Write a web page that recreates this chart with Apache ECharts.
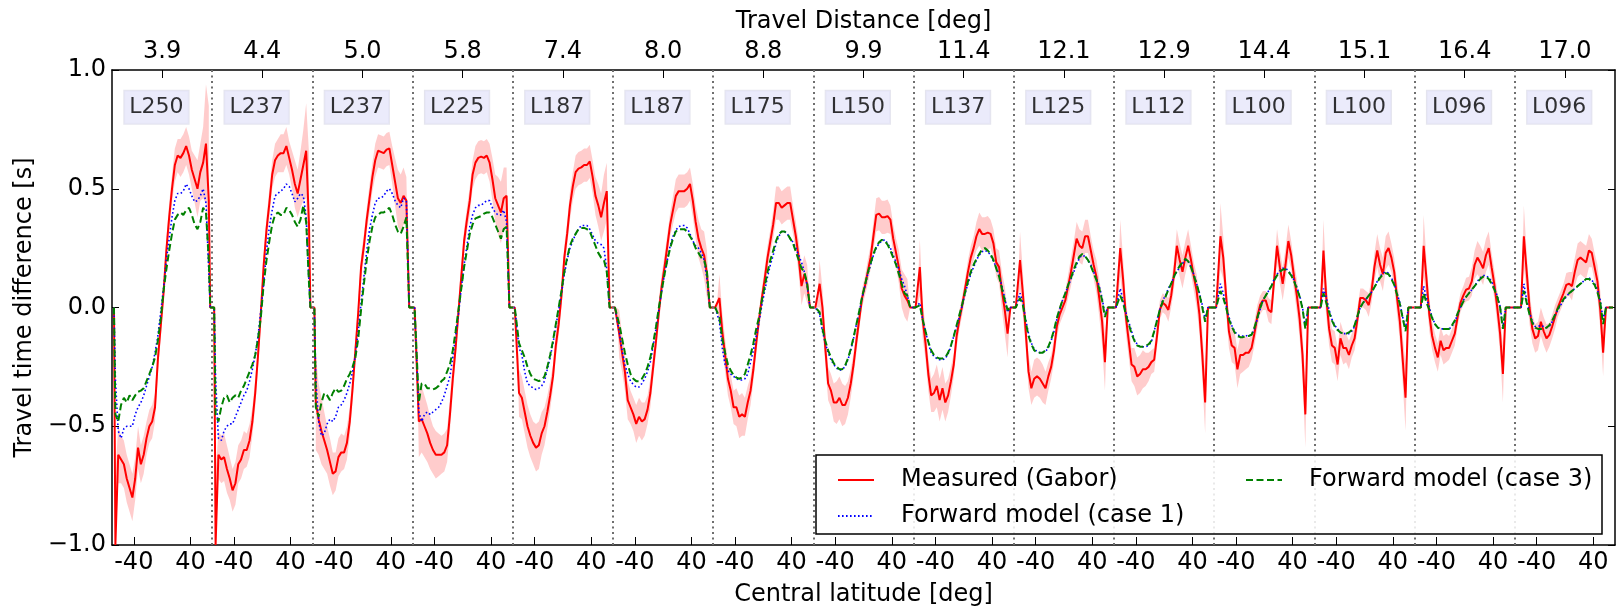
<!DOCTYPE html>
<html>
<head>
<meta charset="utf-8">
<title>Travel time difference</title>
<script src="https://cdn.jsdelivr.net/npm/echarts@6.0.0/dist/echarts.min.js"></script>
<style>
  html, body { margin: 0; padding: 0; background: #fff; }
  #chart { width: 1623px; height: 613px; }
</style>
</head>
<body>
<div id="chart"></div>
<script>
// central latitudes sampled in every panel (deg)
const LATS = [-66, -62, -58, -54, -50, -46, -42, -38, -34, -30, -26, -22, -18, -14, -10, -6, -2,
  2, 6, 10, 14, 18, 22, 26, 30, 34, 38, 42, 46, 50, 54, 58, 62, 66];

// top axis: travel distance of each panel, and the lower turning point label
const TRAVEL_DIST = ['3.9', '4.4', '5.0', '5.8', '7.4', '8.0', '8.8', '9.9', '11.4', '12.1', '12.9', '14.4', '15.1', '16.4', '17.0'];
const TURN_LABELS = ['L250', 'L237', 'L237', 'L225', 'L187', 'L187', 'L175', 'L150', 'L137', 'L125', 'L112', 'L100', 'L100', 'L096', 'L096'];

// measured (Gabor), one row per panel
const MEASURED = [
  [-1.0, -0.62, -0.64, -0.66, -0.72, -0.76, -0.80, -0.72, -0.59, -0.66, -0.62, -0.55, -0.50, -0.48, -0.42, -0.22, -0.08, 0.06, 0.24, 0.38, 0.50, 0.60, 0.64, 0.63, 0.65, 0.68, 0.64, 0.58, 0.54, 0.50, 0.57, 0.61, 0.69, 0.45],
  [-1.0, -0.62, -0.64, -0.63, -0.68, -0.72, -0.77, -0.74, -0.66, -0.64, -0.60, -0.60, -0.56, -0.48, -0.36, -0.20, -0.02, 0.18, 0.33, 0.44, 0.56, 0.62, 0.64, 0.65, 0.65, 0.68, 0.63, 0.58, 0.52, 0.48, 0.54, 0.60, 0.66, 0.35],
  [-0.40, -0.47, -0.52, -0.56, -0.60, -0.65, -0.70, -0.69, -0.63, -0.61, -0.61, -0.57, -0.48, -0.34, -0.18, -0.02, 0.17, 0.26, 0.37, 0.46, 0.55, 0.62, 0.66, 0.655, 0.65, 0.665, 0.67, 0.60, 0.53, 0.46, 0.44, 0.47, 0.45, 0],
  [0, -0.48, -0.47, -0.50, -0.53, -0.57, -0.60, -0.62, -0.62, -0.62, -0.61, -0.58, -0.45, -0.30, -0.17, -0.02, 0.13, 0.28, 0.37, 0.45, 0.56, 0.61, 0.63, 0.635, 0.63, 0.64, 0.61, 0.54, 0.46, 0.43, 0.40, 0.46, 0.47, 0],
  [0, -0.36, -0.38, -0.44, -0.50, -0.54, -0.57, -0.59, -0.58, -0.53, -0.50, -0.44, -0.37, -0.29, -0.16, -0.07, 0.05, 0.21, 0.31, 0.43, 0.51, 0.57, 0.585, 0.59, 0.60, 0.60, 0.615, 0.55, 0.47, 0.43, 0.38, 0.44, 0.49, 0],
  [0, -0.11, -0.19, -0.27, -0.39, -0.42, -0.45, -0.49, -0.46, -0.48, -0.47, -0.43, -0.36, -0.25, -0.14, -0.02, 0.09, 0.17, 0.26, 0.35, 0.41, 0.47, 0.49, 0.49, 0.49, 0.50, 0.52, 0.45, 0.36, 0.29, 0.25, 0.22, 0.14, 0],
  [0, 0.04, -0.10, -0.20, -0.30, -0.35, -0.42, -0.42, -0.46, -0.45, -0.46, -0.40, -0.35, -0.26, -0.15, -0.05, 0.04, 0.12, 0.21, 0.28, 0.35, 0.44, 0.44, 0.42, 0.43, 0.44, 0.44, 0.37, 0.30, 0.21, 0.09, 0.14, 0.10, 0],
  [0, 0.10, 0.00, -0.17, -0.32, -0.35, -0.40, -0.40, -0.38, -0.41, -0.41, -0.38, -0.32, -0.24, -0.14, -0.05, 0.04, 0.09, 0.15, 0.21, 0.30, 0.39, 0.395, 0.38, 0.38, 0.385, 0.37, 0.29, 0.23, 0.17, 0.08, 0.05, 0.03, 0],
  [0, 0.17, -0.05, -0.15, -0.28, -0.37, -0.36, -0.33, -0.39, -0.34, -0.40, -0.37, -0.31, -0.24, -0.12, -0.05, 0.01, 0.08, 0.15, 0.21, 0.25, 0.30, 0.33, 0.31, 0.31, 0.315, 0.31, 0.27, 0.19, 0.17, 0.07, -0.01, -0.11, 0],
  [0, 0.20, 0.06, -0.10, -0.27, -0.34, -0.30, -0.29, -0.30, -0.32, -0.34, -0.29, -0.25, -0.18, -0.08, -0.03, 0.0, 0.03, 0.09, 0.15, 0.22, 0.29, 0.26, 0.25, 0.30, 0.30, 0.24, 0.18, 0.13, 0.04, -0.06, -0.23, 0, 0],
  [0, 0.25, 0.12, -0.04, -0.14, -0.24, -0.25, -0.29, -0.28, -0.26, -0.26, -0.25, -0.23, -0.22, -0.12, -0.01, 0.02, 0.01, -0.01, 0.05, 0.14, 0.26, 0.20, 0.15, 0.21, 0.26, 0.20, 0.13, 0.07, -0.03, -0.20, -0.40, 0, 0],
  [0, 0.30, 0.21, 0.05, -0.10, -0.16, -0.17, -0.26, -0.20, -0.20, -0.19, -0.19, -0.17, -0.11, -0.04, 0.01, 0.03, 0.03, -0.01, -0.02, 0.12, 0.26, 0.17, 0.10, 0.18, 0.28, 0.22, 0.13, 0.05, -0.05, -0.20, -0.45, 0, 0],
  [0, 0, 0.24, 0.04, -0.09, -0.16, -0.17, -0.24, -0.13, -0.17, -0.17, -0.20, -0.16, -0.13, -0.05, 0.04, 0.04, 0.03, 0.01, 0.07, 0.17, 0.24, 0.18, 0.14, 0.23, 0.25, 0.21, 0.15, 0.04, -0.06, -0.22, -0.38, 0, 0],
  [0, 0, 0.26, 0.12, -0.03, -0.12, -0.17, -0.21, -0.14, -0.18, -0.17, -0.17, -0.14, -0.11, -0.04, 0.02, 0.05, 0.075, 0.08, 0.11, 0.18, 0.21, 0.19, 0.165, 0.22, 0.25, 0.17, 0.095, 0.0, -0.11, -0.28, 0, 0, 0],
  [0, 0, 0.30, 0.15, 0.0, -0.09, -0.13, -0.12, -0.06, -0.10, -0.13, -0.115, -0.08, -0.04, 0.0, 0.03, 0.06, 0.095, 0.10, 0.09, 0.15, 0.20, 0.21, 0.20, 0.19, 0.24, 0.23, 0.17, 0.11, -0.01, -0.19, 0, 0, 0],
];

// half width of the shaded spread around the measurement
const SPREAD = [
  [0.30, 0.12, 0.10, 0.10, 0.10, 0.10, 0.10, 0.09, 0.09, 0.08, 0.08, 0.07, 0.07, 0.07, 0.06, 0.06, 0.05, 0.05, 0.05, 0.06, 0.06, 0.07, 0.07, 0.08, 0.08, 0.08, 0.08, 0.08, 0.10, 0.12, 0.12, 0.15, 0.25, 0.40],
  [0.30, 0.10, 0.10, 0.10, 0.10, 0.09, 0.09, 0.09, 0.08, 0.08, 0.08, 0.07, 0.07, 0.06, 0.06, 0.05, 0.05, 0.05, 0.05, 0.06, 0.06, 0.07, 0.07, 0.08, 0.08, 0.08, 0.07, 0.08, 0.10, 0.10, 0.12, 0.15, 0.20, 0.30],
  [0.20, 0.15, 0.14, 0.12, 0.10, 0.10, 0.09, 0.08, 0.08, 0.08, 0.07, 0.07, 0.06, 0.06, 0.05, 0.05, 0.05, 0.05, 0.05, 0.06, 0.06, 0.07, 0.07, 0.07, 0.07, 0.07, 0.07, 0.08, 0.10, 0.12, 0.12, 0.12, 0.10, 0],
  [0, 0.15, 0.14, 0.13, 0.12, 0.11, 0.10, 0.10, 0.09, 0.08, 0.08, 0.07, 0.07, 0.06, 0.05, 0.05, 0.05, 0.05, 0.05, 0.06, 0.06, 0.07, 0.07, 0.07, 0.07, 0.07, 0.08, 0.09, 0.10, 0.12, 0.13, 0.13, 0.12, 0],
  [0, 0.10, 0.09, 0.09, 0.09, 0.09, 0.09, 0.10, 0.10, 0.09, 0.08, 0.07, 0.06, 0.05, 0.05, 0.05, 0.05, 0.05, 0.05, 0.06, 0.06, 0.07, 0.07, 0.07, 0.07, 0.07, 0.07, 0.07, 0.08, 0.09, 0.10, 0.12, 0.12, 0],
  [0, 0.10, 0.08, 0.08, 0.08, 0.07, 0.07, 0.08, 0.08, 0.08, 0.07, 0.06, 0.06, 0.05, 0.05, 0.05, 0.05, 0.05, 0.05, 0.05, 0.06, 0.07, 0.07, 0.07, 0.07, 0.07, 0.07, 0.07, 0.07, 0.08, 0.08, 0.10, 0.10, 0],
  [0, 0.10, 0.08, 0.07, 0.07, 0.07, 0.07, 0.08, 0.09, 0.09, 0.08, 0.07, 0.06, 0.05, 0.05, 0.04, 0.04, 0.05, 0.05, 0.05, 0.06, 0.07, 0.07, 0.07, 0.07, 0.07, 0.07, 0.06, 0.06, 0.07, 0.08, 0.08, 0.08, 0],
  [0, 0.10, 0.08, 0.07, 0.07, 0.07, 0.08, 0.09, 0.09, 0.09, 0.08, 0.07, 0.06, 0.05, 0.05, 0.04, 0.04, 0.04, 0.05, 0.05, 0.06, 0.07, 0.07, 0.07, 0.07, 0.07, 0.06, 0.06, 0.06, 0.07, 0.08, 0.09, 0.09, 0],
  [0, 0.12, 0.08, 0.07, 0.07, 0.07, 0.08, 0.09, 0.09, 0.09, 0.08, 0.07, 0.06, 0.05, 0.05, 0.04, 0.04, 0.04, 0.05, 0.05, 0.05, 0.06, 0.07, 0.07, 0.07, 0.07, 0.06, 0.06, 0.06, 0.07, 0.08, 0.10, 0.10, 0],
  [0, 0.12, 0.09, 0.07, 0.07, 0.07, 0.08, 0.08, 0.08, 0.08, 0.07, 0.06, 0.05, 0.05, 0.05, 0.04, 0.04, 0.04, 0.05, 0.06, 0.06, 0.07, 0.07, 0.07, 0.07, 0.07, 0.06, 0.06, 0.07, 0.08, 0.10, 0.12, 0, 0],
  [0, 0.12, 0.09, 0.07, 0.07, 0.07, 0.08, 0.08, 0.08, 0.08, 0.07, 0.06, 0.05, 0.05, 0.05, 0.04, 0.04, 0.04, 0.05, 0.05, 0.06, 0.07, 0.07, 0.07, 0.07, 0.07, 0.06, 0.06, 0.07, 0.08, 0.10, 0.13, 0, 0],
  [0, 0.14, 0.09, 0.07, 0.07, 0.07, 0.07, 0.08, 0.08, 0.07, 0.07, 0.06, 0.05, 0.05, 0.05, 0.04, 0.04, 0.04, 0.05, 0.05, 0.06, 0.07, 0.07, 0.07, 0.07, 0.07, 0.06, 0.06, 0.07, 0.08, 0.10, 0.14, 0, 0],
  [0, 0, 0.13, 0.08, 0.07, 0.07, 0.07, 0.07, 0.07, 0.07, 0.06, 0.06, 0.05, 0.05, 0.05, 0.04, 0.04, 0.04, 0.05, 0.05, 0.06, 0.07, 0.07, 0.07, 0.07, 0.07, 0.06, 0.06, 0.07, 0.08, 0.10, 0.14, 0, 0],
  [0, 0, 0.13, 0.08, 0.07, 0.06, 0.06, 0.06, 0.06, 0.06, 0.06, 0.05, 0.05, 0.05, 0.04, 0.04, 0.04, 0.05, 0.05, 0.06, 0.06, 0.07, 0.07, 0.07, 0.07, 0.07, 0.06, 0.06, 0.07, 0.08, 0.12, 0, 0, 0],
  [0, 0, 0.13, 0.08, 0.07, 0.06, 0.06, 0.06, 0.06, 0.06, 0.06, 0.05, 0.05, 0.05, 0.04, 0.04, 0.04, 0.05, 0.05, 0.06, 0.06, 0.07, 0.07, 0.07, 0.07, 0.07, 0.06, 0.06, 0.07, 0.08, 0.10, 0, 0, 0],
];

// forward model (case 1)
const CASE1 = [
  [-0.30, -0.52, -0.55, -0.51, -0.50, -0.50, -0.50, -0.45, -0.42, -0.40, -0.37, -0.33, -0.29, -0.25, -0.19, -0.12, -0.02, 0.08, 0.20, 0.29, 0.38, 0.45, 0.48, 0.48, 0.49, 0.52, 0.50, 0.47, 0.445, 0.45, 0.47, 0.50, 0.44, 0.15],
  [-0.30, -0.55, -0.56, -0.52, -0.50, -0.49, -0.49, -0.46, -0.43, -0.40, -0.37, -0.35, -0.31, -0.26, -0.20, -0.12, -0.01, 0.10, 0.24, 0.34, 0.41, 0.47, 0.48, 0.49, 0.50, 0.52, 0.51, 0.48, 0.445, 0.46, 0.48, 0.47, 0.38, 0.10],
  [-0.30, -0.48, -0.54, -0.53, -0.49, -0.47, -0.48, -0.46, -0.42, -0.41, -0.39, -0.36, -0.32, -0.27, -0.20, -0.10, 0.02, 0.13, 0.24, 0.33, 0.39, 0.44, 0.46, 0.46, 0.47, 0.49, 0.50, 0.48, 0.45, 0.43, 0.42, 0.46, 0.45, 0],
  [0, -0.44, -0.48, -0.45, -0.44, -0.45, -0.44, -0.43, -0.42, -0.40, -0.37, -0.33, -0.29, -0.21, -0.12, -0.03, 0.08, 0.18, 0.26, 0.34, 0.39, 0.42, 0.43, 0.43, 0.44, 0.45, 0.45, 0.42, 0.40, 0.39, 0.39, 0.41, 0.36, 0],
  [0, -0.17, -0.20, -0.27, -0.32, -0.33, -0.34, -0.345, -0.34, -0.33, -0.31, -0.26, -0.21, -0.15, -0.08, -0.01, 0.06, 0.14, 0.20, 0.25, 0.28, 0.31, 0.33, 0.345, 0.345, 0.345, 0.33, 0.305, 0.28, 0.27, 0.265, 0.25, 0.16, 0],
  [0, -0.10, -0.18, -0.24, -0.28, -0.31, -0.325, -0.335, -0.335, -0.32, -0.30, -0.27, -0.23, -0.16, -0.09, -0.01, 0.07, 0.14, 0.20, 0.26, 0.30, 0.325, 0.34, 0.345, 0.345, 0.335, 0.31, 0.28, 0.26, 0.25, 0.23, 0.20, 0.12, 0],
  [0, -0.06, -0.17, -0.24, -0.265, -0.28, -0.29, -0.30, -0.305, -0.305, -0.30, -0.28, -0.23, -0.18, -0.12, -0.06, 0.01, 0.07, 0.13, 0.18, 0.22, 0.27, 0.30, 0.32, 0.32, 0.31, 0.29, 0.275, 0.25, 0.22, 0.19, 0.15, 0.09, 0],
  [0, -0.03, -0.10, -0.15, -0.19, -0.22, -0.24, -0.255, -0.265, -0.26, -0.25, -0.22, -0.18, -0.13, -0.07, -0.02, 0.04, 0.09, 0.14, 0.18, 0.22, 0.25, 0.27, 0.28, 0.285, 0.27, 0.25, 0.22, 0.19, 0.16, 0.12, 0.09, 0.05, 0],
  [0, 0.02, -0.05, -0.10, -0.15, -0.19, -0.205, -0.215, -0.22, -0.22, -0.215, -0.195, -0.165, -0.12, -0.08, -0.04, 0.01, 0.06, 0.10, 0.14, 0.17, 0.20, 0.22, 0.235, 0.24, 0.235, 0.22, 0.195, 0.17, 0.135, 0.09, 0.04, -0.02, 0],
  [0, 0.06, 0.02, -0.05, -0.11, -0.15, -0.175, -0.185, -0.19, -0.19, -0.185, -0.17, -0.14, -0.10, -0.05, -0.01, 0.03, 0.06, 0.09, 0.12, 0.15, 0.18, 0.21, 0.22, 0.215, 0.20, 0.18, 0.15, 0.12, 0.09, 0.04, -0.03, 0, 0],
  [0, 0.08, 0.03, -0.02, -0.06, -0.10, -0.135, -0.155, -0.165, -0.165, -0.165, -0.16, -0.145, -0.10, -0.05, -0.01, 0.03, 0.05, 0.08, 0.10, 0.13, 0.15, 0.17, 0.185, 0.20, 0.195, 0.17, 0.14, 0.10, 0.06, 0.01, -0.05, 0, 0],
  [0, 0.10, 0.06, 0.01, -0.04, -0.075, -0.10, -0.115, -0.12, -0.12, -0.12, -0.115, -0.115, -0.09, -0.05, -0.01, 0.03, 0.05, 0.07, 0.09, 0.12, 0.14, 0.155, 0.165, 0.165, 0.155, 0.14, 0.115, 0.085, 0.05, 0.0, -0.08, 0, 0],
  [0, 0, 0.08, 0.04, -0.01, -0.05, -0.075, -0.09, -0.105, -0.11, -0.11, -0.11, -0.10, -0.08, -0.04, 0.0, 0.02, 0.035, 0.05, 0.065, 0.085, 0.11, 0.13, 0.145, 0.15, 0.145, 0.125, 0.10, 0.06, 0.02, -0.04, -0.09, 0, 0],
  [0, 0, 0.09, 0.04, 0.0, -0.04, -0.07, -0.085, -0.09, -0.09, -0.09, -0.09, -0.08, -0.06, -0.03, 0.0, 0.03, 0.045, 0.06, 0.075, 0.09, 0.11, 0.125, 0.135, 0.135, 0.125, 0.11, 0.08, 0.05, 0.005, -0.08, 0, 0, 0],
  [0, 0, 0.10, 0.03, -0.02, -0.06, -0.08, -0.08, -0.075, -0.08, -0.085, -0.08, -0.06, -0.035, -0.01, 0.01, 0.03, 0.045, 0.06, 0.07, 0.08, 0.09, 0.10, 0.11, 0.12, 0.125, 0.115, 0.10, 0.075, 0.03, -0.05, 0, 0, 0],
];

// forward model (case 3)
const CASE3 = [
  [-0.45, -0.48, -0.41, -0.38, -0.40, -0.37, -0.39, -0.37, -0.355, -0.35, -0.34, -0.31, -0.28, -0.25, -0.21, -0.14, -0.05, 0.07, 0.16, 0.24, 0.31, 0.37, 0.39, 0.40, 0.39, 0.41, 0.42, 0.39, 0.35, 0.33, 0.36, 0.42, 0.40, 0.20],
  [-0.45, -0.48, -0.42, -0.38, -0.37, -0.40, -0.38, -0.37, -0.38, -0.35, -0.33, -0.30, -0.27, -0.24, -0.20, -0.13, -0.04, 0.10, 0.20, 0.28, 0.35, 0.39, 0.40, 0.39, 0.39, 0.42, 0.41, 0.39, 0.36, 0.34, 0.37, 0.43, 0.36, 0.10],
  [-0.42, -0.46, -0.40, -0.36, -0.37, -0.39, -0.36, -0.34, -0.355, -0.35, -0.33, -0.30, -0.28, -0.25, -0.21, -0.13, -0.01, 0.10, 0.20, 0.28, 0.34, 0.38, 0.39, 0.40, 0.40, 0.41, 0.42, 0.39, 0.35, 0.32, 0.31, 0.34, 0.38, 0],
  [0, -0.40, -0.32, -0.32, -0.34, -0.34, -0.345, -0.34, -0.33, -0.31, -0.30, -0.27, -0.24, -0.18, -0.10, -0.01, 0.08, 0.17, 0.24, 0.31, 0.35, 0.375, 0.38, 0.385, 0.395, 0.40, 0.40, 0.38, 0.35, 0.32, 0.29, 0.33, 0.34, 0],
  [0, -0.15, -0.18, -0.21, -0.25, -0.28, -0.30, -0.305, -0.31, -0.305, -0.29, -0.25, -0.20, -0.14, -0.07, 0.0, 0.07, 0.15, 0.21, 0.26, 0.29, 0.31, 0.33, 0.335, 0.335, 0.33, 0.32, 0.29, 0.26, 0.23, 0.21, 0.20, 0.15, 0],
  [0, -0.07, -0.13, -0.19, -0.24, -0.28, -0.30, -0.31, -0.31, -0.30, -0.28, -0.25, -0.21, -0.15, -0.08, 0.0, 0.07, 0.14, 0.20, 0.25, 0.29, 0.32, 0.33, 0.33, 0.33, 0.32, 0.30, 0.28, 0.25, 0.23, 0.21, 0.20, 0.15, 0],
  [0, -0.04, -0.13, -0.19, -0.24, -0.265, -0.285, -0.295, -0.30, -0.295, -0.28, -0.24, -0.20, -0.15, -0.09, -0.04, 0.03, 0.09, 0.15, 0.20, 0.24, 0.28, 0.31, 0.32, 0.32, 0.31, 0.29, 0.27, 0.235, 0.20, 0.165, 0.15, 0.10, 0],
  [0, -0.02, -0.09, -0.14, -0.18, -0.21, -0.235, -0.25, -0.26, -0.26, -0.245, -0.215, -0.175, -0.125, -0.07, -0.015, 0.045, 0.095, 0.145, 0.185, 0.225, 0.255, 0.275, 0.285, 0.28, 0.265, 0.24, 0.21, 0.18, 0.14, 0.10, 0.06, 0.05, 0],
  [0, 0.01, -0.05, -0.10, -0.145, -0.18, -0.20, -0.21, -0.215, -0.215, -0.21, -0.19, -0.16, -0.12, -0.075, -0.03, 0.015, 0.065, 0.11, 0.15, 0.18, 0.205, 0.225, 0.245, 0.25, 0.24, 0.225, 0.20, 0.165, 0.13, 0.08, 0.03, -0.01, 0],
  [0, 0.04, 0.01, -0.06, -0.12, -0.155, -0.18, -0.19, -0.19, -0.19, -0.18, -0.165, -0.135, -0.095, -0.045, -0.005, 0.03, 0.06, 0.095, 0.125, 0.16, 0.19, 0.215, 0.225, 0.215, 0.20, 0.175, 0.145, 0.115, 0.08, 0.03, -0.04, 0, 0],
  [0, 0.05, 0.02, -0.03, -0.07, -0.11, -0.14, -0.16, -0.165, -0.165, -0.16, -0.155, -0.14, -0.10, -0.055, -0.01, 0.025, 0.045, 0.075, 0.10, 0.13, 0.155, 0.175, 0.19, 0.205, 0.195, 0.17, 0.135, 0.10, 0.055, 0.0, -0.06, 0, 0],
  [0, 0.07, 0.04, 0.0, -0.05, -0.08, -0.105, -0.12, -0.125, -0.125, -0.12, -0.12, -0.115, -0.085, -0.045, -0.005, 0.03, 0.05, 0.07, 0.09, 0.115, 0.135, 0.15, 0.16, 0.16, 0.15, 0.135, 0.11, 0.08, 0.045, -0.005, -0.09, 0, 0],
  [0, 0, 0.06, 0.02, -0.02, -0.055, -0.08, -0.095, -0.105, -0.11, -0.11, -0.105, -0.095, -0.075, -0.035, 0.0, 0.02, 0.035, 0.05, 0.065, 0.085, 0.105, 0.125, 0.14, 0.145, 0.14, 0.12, 0.095, 0.055, 0.015, -0.045, -0.10, 0, 0],
  [0, 0, 0.06, 0.02, -0.01, -0.045, -0.07, -0.085, -0.09, -0.09, -0.09, -0.09, -0.075, -0.055, -0.025, 0.0, 0.025, 0.045, 0.06, 0.075, 0.09, 0.105, 0.12, 0.13, 0.13, 0.12, 0.10, 0.075, 0.045, 0.0, -0.09, 0, 0, 0],
  [0, 0, 0.07, 0.02, -0.03, -0.065, -0.085, -0.09, -0.09, -0.09, -0.085, -0.075, -0.055, -0.03, -0.005, 0.015, 0.035, 0.05, 0.06, 0.07, 0.08, 0.09, 0.10, 0.11, 0.12, 0.12, 0.11, 0.095, 0.065, 0.02, -0.07, 0, 0, 0],
];

const SPAN = 141.6;      // width of one panel on the shared x axis (deg)
const PAD_LAT = 68;      // series fall back to zero at the panel edge
const LABEL_LAT = -8;    // where the Lxxx boxes sit inside a panel
const LABEL_Y = 0.843;
const FONT = 'DejaVu Sans';
const NPANEL = TRAVEL_DIST.length;

function panelX(k, lat) {
  return k * SPAN + SPAN / 2 + lat;
}

function panelOf(x) {
  return Math.min(NPANEL - 1, Math.max(0, Math.floor(x / SPAN)));
}

function lineData(rows) {
  const out = [];
  rows.forEach((vals, k) => {
    out.push([panelX(k, -PAD_LAT), 0]);
    vals.forEach((v, i) => out.push([panelX(k, LATS[i]), v]));
    out.push([panelX(k, PAD_LAT), 0]);
  });
  return out;
}

function clampY(v) {
  return Math.max(-1, Math.min(1, v));
}

const bottomTicks = [];
const topTicks = [];
const separators = [];
for (let k = 0; k < NPANEL; k++) {
  bottomTicks.push(panelX(k, -40), panelX(k, 40));
  topTicks.push(panelX(k, 0));
  if (k > 0) separators.push({ xAxis: k * SPAN });
}

const chart = echarts.init(document.getElementById('chart'), null, { renderer: 'canvas' });

const textBase = { fontFamily: FONT, fontSize: 24, color: '#000' };

const legendBase = {
  orient: 'vertical',
  top: 461,
  itemWidth: 36,
  itemHeight: 14,
  itemGap: 8,
  selectedMode: false,
  z: 20,
  itemStyle: { opacity: 0 },
  textStyle: { ...textBase, lineHeight: 28, padding: [0, 0, 0, 22] },
};

const option = {
  animation: false,
  backgroundColor: '#fff',
  grid: { left: 112, right: 8, top: 70, bottom: 68 },
  xAxis: [
    {
      type: 'value',
      position: 'bottom',
      min: 0,
      max: NPANEL * SPAN,
      name: 'Central latitude [deg]',
      nameLocation: 'middle',
      nameGap: 38,
      nameTextStyle: textBase,
      axisLine: { show: true, onZero: false, lineStyle: { color: '#000', width: 1.5 } },
      axisTick: { show: true, inside: true, length: 8, customValues: bottomTicks, lineStyle: { color: '#000', width: 1 } },
      axisLabel: {
        ...textBase,
        margin: 6,
        customValues: bottomTicks,
        formatter: (v) => String(Math.round(v - panelX(panelOf(v), 0))),
      },
      splitLine: { show: false },
    },
    {
      type: 'value',
      position: 'top',
      min: 0,
      max: NPANEL * SPAN,
      name: 'Travel Distance [deg]',
      nameLocation: 'middle',
      nameGap: 36,
      nameTextStyle: textBase,
      axisLine: { show: true, onZero: false, lineStyle: { color: '#000', width: 1.5 } },
      axisTick: { show: true, inside: true, length: 8, customValues: topTicks, lineStyle: { color: '#000', width: 1 } },
      axisLabel: {
        ...textBase,
        margin: 6,
        customValues: topTicks,
        formatter: (v) => TRAVEL_DIST[panelOf(v)],
      },
      splitLine: { show: false },
    },
  ],
  yAxis: [
    {
      type: 'value',
      position: 'left',
      min: -1,
      max: 1,
      interval: 0.5,
      name: 'Travel time difference [s]',
      nameLocation: 'middle',
      nameGap: 72,
      nameTextStyle: textBase,
      axisLine: { show: true, onZero: false, lineStyle: { color: '#000', width: 1.5 } },
      axisTick: { show: true, inside: true, length: 7, lineStyle: { color: '#000', width: 1 } },
      axisLabel: {
        ...textBase,
        margin: 6,
        formatter: (v) => (v < 0 ? '\u2212' : '') + Math.abs(v).toFixed(1),
      },
      splitLine: { show: false },
    },
    {
      type: 'value',
      position: 'right',
      min: -1,
      max: 1,
      interval: 0.5,
      axisLine: { show: true, onZero: false, lineStyle: { color: '#000', width: 1.5 } },
      axisTick: { show: true, inside: true, length: 7, lineStyle: { color: '#000', width: 1 } },
      axisLabel: { show: false },
      splitLine: { show: false },
    },
  ],
  legend: [
    { ...legendBase, data: ['Measured (Gabor)', 'Forward model (case 1)'], left: 832 },
    { ...legendBase, data: ['Forward model (case 3)'], left: 1240 },
  ],
  graphic: [
    {
      type: 'rect',
      z: 15,
      silent: true,
      shape: { x: 816, y: 455, width: 786, height: 79 },
      style: { fill: 'rgba(255,255,255,0.85)', stroke: '#000', lineWidth: 1.5 },
    },
  ],
  series: [
    {
      name: 'spread',
      type: 'custom',
      silent: true,
      z: 1,
      data: TRAVEL_DIST.map((_, k) => [panelX(k, 0), 0]),
      renderItem: (params, api) => {
        const k = params.dataIndex;
        const m = MEASURED[k];
        const e = SPREAD[k];
        const upper = [];
        const lower = [];
        LATS.forEach((lat, i) => {
          const x = panelX(k, lat);
          upper.push(api.coord([x, clampY(m[i] + e[i])]));
          lower.push(api.coord([x, clampY(m[i] - e[i])]));
        });
        return {
          type: 'polygon',
          shape: { points: upper.concat(lower.reverse()) },
          style: { fill: 'rgba(255,0,0,0.2)' },
        };
      },
      markLine: {
        silent: true,
        symbol: ['none', 'none'],
        label: { show: false },
        lineStyle: { color: '#6e6e6e', type: [2, 3.5], width: 2 },
        data: separators,
      },
    },
    {
      name: 'Measured (Gabor)',
      type: 'line',
      symbol: 'none',
      z: 3,
      data: lineData(MEASURED),
      lineStyle: { color: '#ff0000', width: 2 },
      itemStyle: { color: '#ff0000' },
    },
    {
      name: 'Forward model (case 1)',
      type: 'line',
      symbol: 'none',
      z: 4,
      data: lineData(CASE1),
      lineStyle: { color: '#0000ff', width: 1.6, type: [1.6, 2.4] },
      itemStyle: { color: '#0000ff' },
    },
    {
      name: 'Forward model (case 3)',
      type: 'line',
      symbol: 'none',
      z: 5,
      data: lineData(CASE3),
      lineStyle: { color: '#008000', width: 2, type: [7, 3.5] },
      itemStyle: { color: '#008000' },
    },
    {
      name: 'turning point',
      type: 'scatter',
      silent: true,
      z: 6,
      symbol: 'circle',
      symbolSize: 1,
      itemStyle: { color: 'rgba(0,0,0,0)' },
      data: TURN_LABELS.map((t, k) => [panelX(k, LABEL_LAT), LABEL_Y, t]),
      label: {
        show: true,
        position: 'inside',
        formatter: (p) => p.data[2],
        fontFamily: FONT,
        fontSize: 22,
        color: '#000',
        backgroundColor: '#e6e6fa',
        borderColor: 'rgba(200,200,220,0.6)',
        borderWidth: 1,
        padding: [6, 5, 5, 5],
      },
    },
  ],
};

chart.setOption(option);
</script>
</body>
</html>
